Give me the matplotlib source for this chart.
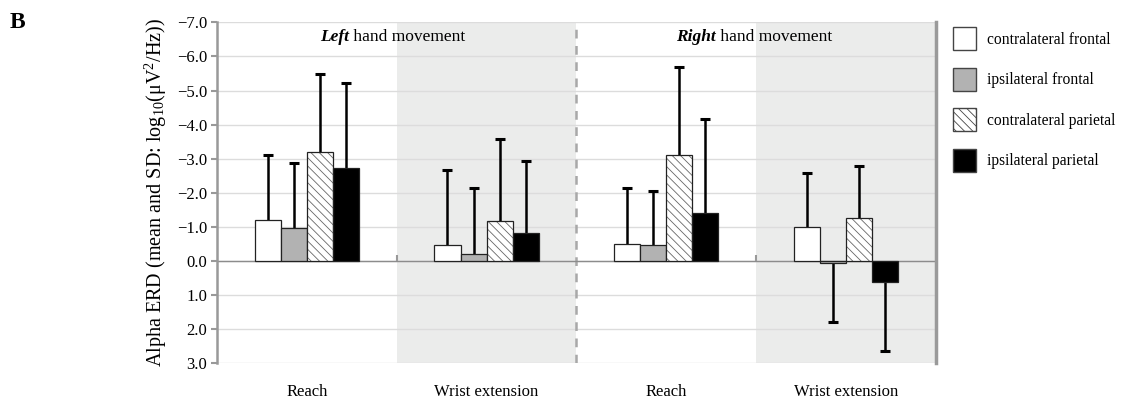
import numpy as np
import matplotlib
matplotlib.use("Agg")
import matplotlib.pyplot as plt
from matplotlib.patches import Patch
from matplotlib.ticker import FuncFormatter

plt.rcParams['font.family'] = ['Liberation Serif', 'DejaVu Serif']
plt.rcParams['mathtext.fontset'] = 'custom'
plt.rcParams['mathtext.rm'] = 'Liberation Serif'
plt.rcParams['mathtext.it'] = 'Liberation Serif:italic'
plt.rcParams['mathtext.bf'] = 'Liberation Serif:bold'
plt.rcParams['hatch.linewidth'] = 0.6

# data (alpha ERD, mean and SD)
conditions = ['Reach', 'Wrist extension', 'Reach', 'Wrist extension']
series = ['contralateral frontal', 'ipsilateral frontal',
          'contralateral parietal', 'ipsilateral parietal']
contra_frontal = [-1.20, -0.47, -0.48, -1.00]
ipsi_frontal = [-0.95, -0.20, -0.45, 0.07]
contra_parietal = [-3.20, -1.18, -3.10, -1.26]
ipsi_parietal = [-2.73, -0.83, -1.40, 0.61]
sd_contra_frontal = [1.90, 2.20, 1.65, 1.57]
sd_ipsi_frontal = [1.93, 1.93, 1.61, 1.73]
sd_contra_parietal = [2.28, 2.39, 2.58, 1.52]
sd_ipsi_parietal = [2.50, 2.10, 2.76, 2.03]
yticks = [-7, -6, -5, -4, -3, -2, -1, 0, 1, 2, 3]

means = [contra_frontal, ipsi_frontal, contra_parietal, ipsi_parietal]
sds = [sd_contra_frontal, sd_ipsi_frontal, sd_contra_parietal, sd_ipsi_parietal]
faces = ['white', '#b2b2b2', 'white', 'black']
hatches = [None, None, '\\\\\\\\', None]

fig = plt.figure(figsize=(11.24, 4.05), dpi=100)
ax = fig.add_axes([0.193, 0.1037, 0.6397, 0.841])

x = np.arange(len(conditions))
w = 0.145

# shaded panels and divider
for xs in [0.5, 2.5]:
    ax.axvspan(xs, xs + 1, color='#ebeceb', zorder=0, lw=0)
ax.axvline(1.5, color='#a8a8a8', lw=1.8, ls=(0, (3.5, 3)), zorder=1)

for i in range(4):
    xi = x + (i - 1.5) * w
    m = np.array(means[i])
    s = np.array(sds[i])
    if hatches[i]:
        ax.bar(xi, m, w, color='white', edgecolor='#666666', linewidth=0,
               hatch=hatches[i], zorder=3)
        ax.bar(xi, m, w, fill=False, edgecolor='#222222', linewidth=0.9, zorder=3.1)
    else:
        ax.bar(xi, m, w, color=faces[i], edgecolor='#222222', linewidth=0.9, zorder=3)
    end = m + np.sign(m) * s
    ax.vlines(xi, m, end, color='black', lw=1.8, zorder=2)
    ax.plot(xi, end, ls='none', marker='_', ms=7, mew=2.2, color='black', zorder=2)

ax.axhline(0, color='#8c8c8c', lw=1.0, zorder=2.5)
ax.vlines([0.5, 2.5], 0, -0.18, color='#999999', lw=1.5, zorder=2.5)

ax.set_ylim(3, -7)
ax.set_xlim(-0.5, 3.5)
ax.set_yticks(yticks)
ax.yaxis.set_major_formatter(FuncFormatter(lambda v, p: f"{v:.1f}".replace('-', '\u2212')))
ax.yaxis.grid(True, color='#dcdcdc', lw=1.0, zorder=0.5)
ax.set_axisbelow(True)
ax.set_xticks(x)
ax.set_xticklabels(conditions, fontsize=12)
ax.tick_params(axis='x', length=0, pad=15)
ax.tick_params(axis='y', length=4, width=1.5, color='#999999', labelsize=12, pad=3)

for sp in ['top', 'bottom']:
    ax.spines[sp].set_visible(False)
ax.spines['left'].set_color('#999999')
ax.spines['left'].set_linewidth(1.8)
ax.spines['right'].set_color('#9a9a9a')
ax.spines['right'].set_linewidth(2.5)

ax.set_ylabel('Alpha ERD (mean and SD: log$_{10}$(\u03bcV$^2$/Hz))', fontsize=14.5, labelpad=6)

# panel titles: bold italic word + plain rest
for word, xpos in [('Left', 0.234), ('Right', 2.276)]:
    t = ax.text(xpos, -6.45, word, ha='right', va='baseline', fontsize=12.5,
                fontweight='bold', fontstyle='italic')
    ax.annotate(' hand movement', xy=(1, 0), xycoords=t, ha='left', va='bottom',
                fontsize=12.5)

fig.text(0.009, 0.93, 'B', fontsize=17, fontweight='bold')

handles = []
for i in range(4):
    handles.append(Patch(facecolor=faces[i], edgecolor='#444444', hatch=hatches[i], lw=1.0))
fig.legend(handles, series, loc='upper left', bbox_to_anchor=(0.835, 0.967),
           frameon=False, fontsize=11.2, handlelength=1.54, handleheight=1.9,
           labelspacing=1.12, handletextpad=0.7)

fig.savefig('out.png', dpi=100)
